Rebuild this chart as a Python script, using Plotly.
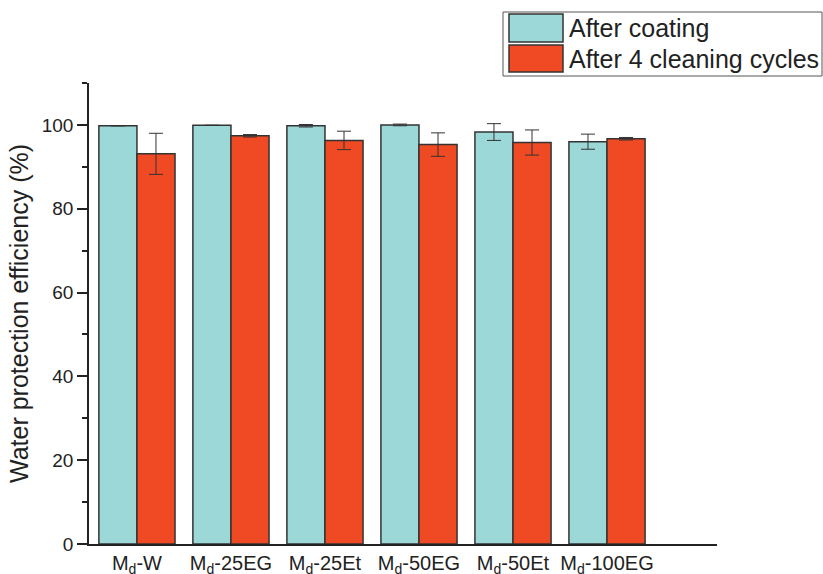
import plotly.graph_objects as go

categories = ["M<sub>d</sub>-W", "M<sub>d</sub>-25EG", "M<sub>d</sub>-25Et",
              "M<sub>d</sub>-50EG", "M<sub>d</sub>-50Et", "M<sub>d</sub>-100EG"]
after_coating = [99.8, 99.9, 99.8, 100.0, 98.3, 96.0]
after_coating_err = [0.0, 0.0, 0.3, 0.2, 2.0, 1.8]
after_cleaning = [93.1, 97.4, 96.3, 95.3, 95.8, 96.7]
after_cleaning_err = [4.9, 0.3, 2.2, 2.8, 3.0, 0.3]

series_names = ["After coating", "After 4 cleaning cycles"]
teal = "#9dd8d8"
red = "#f04a24"
edge = "#333333"
font_family = "Liberation Sans, Arial, sans-serif"

x_idx = list(range(len(categories)))

fig = go.Figure()
fig.add_trace(go.Bar(
    x=x_idx, y=after_coating, name=series_names[0],
    marker=dict(color=teal, line=dict(color=edge, width=1.5)),
    error_y=dict(type="data", array=after_coating_err, visible=True,
                 color=edge, thickness=1, width=7),
    showlegend=False))
fig.add_trace(go.Bar(
    x=x_idx, y=after_cleaning, name=series_names[1],
    marker=dict(color=red, line=dict(color=edge, width=1.5)),
    error_y=dict(type="data", array=after_cleaning_err, visible=True,
                 color=edge, thickness=1, width=7),
    showlegend=False))

# custom legend (large swatches in a box)
W, H = 823, 574
ml, mr, mt, mb = 89, 106, 83, 30
pw, ph = W - ml - mr, H - mt - mb

def px(x):
    return (x - ml) / pw

def py(y):
    return (H - mb - y) / ph

shapes = [
    dict(type="rect", xref="paper", yref="paper", x0=px(503), x1=px(822), y0=py(76), y1=py(12),
         line=dict(color="#555555", width=1), fillcolor="white", layer="above"),
    dict(type="rect", xref="paper", yref="paper", x0=px(509), x1=px(563), y0=py(42), y1=py(14),
         line=dict(color=edge, width=1.5), fillcolor=teal, layer="above"),
    dict(type="rect", xref="paper", yref="paper", x0=px(509), x1=px(563), y0=py(72), y1=py(45),
         line=dict(color=edge, width=1.5), fillcolor=red, layer="above"),
]
annotations = [
    dict(xref="paper", yref="paper", x=px(567), y=py(28), text=series_names[0], showarrow=False,
         xanchor="left", yanchor="middle", font=dict(size=25, color="#222222", family=font_family)),
    dict(xref="paper", yref="paper", x=px(567), y=py(59), text=series_names[1], showarrow=False,
         xanchor="left", yanchor="middle", font=dict(size=25, color="#222222", family=font_family)),
]

fig.update_layout(
    width=W, height=H,
    margin=dict(l=ml, r=mr, t=mt, b=mb),
    paper_bgcolor="white", plot_bgcolor="white",
    barmode="group", bargap=0.19, bargroupgap=0.0,
    font=dict(family=font_family, color="#222222"),
    shapes=shapes, annotations=annotations,
    xaxis=dict(
        tickmode="array", tickvals=x_idx, ticktext=categories,
        range=[-0.51, 6.17], showline=True, linecolor="#222222", linewidth=1.5,
        ticks="", showgrid=False, zeroline=False, automargin=False,
        tickfont=dict(size=20, color="#222222"),
    ),
    yaxis=dict(
        range=[0, 110], tickvals=[0, 20, 40, 60, 80, 100],
        showline=True, linecolor="#222222", linewidth=1.5, automargin=False,
        ticks="outside", ticklen=10, tickwidth=1.5, tickcolor="#222222",
        minor=dict(tickvals=[10, 30, 50, 70, 90, 110], ticks="outside", ticklen=5,
                   tickwidth=1.5, tickcolor="#222222"),
        showgrid=False, zeroline=False,
        tickfont=dict(size=19, color="#222222"),
        title=dict(text="Water protection efficiency (%)", font=dict(size=25, color="#222222"),
                   standoff=6),
    ),
)

fig.write_html("out.html")
